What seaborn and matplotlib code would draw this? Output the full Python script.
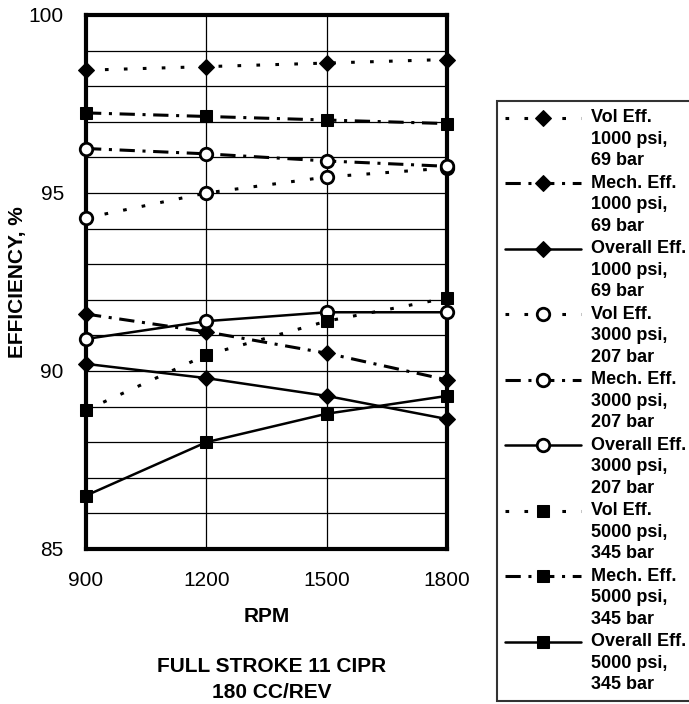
import pandas as pd
import seaborn as sb
from matplotlib import pyplot as plt
from matplotlib.lines import Line2D
from matplotlib.legend_handler import HandlerLine2D
from matplotlib.ticker import MultipleLocator

# RPM values along the x axis
rpm = [900, 1200, 1500, 1800]

# efficiencies (%)
vol_1000 = [98.45, 98.55, 98.65, 98.75]
mech_1000 = [91.6, 91.1, 90.5, 89.75]
overall_1000 = [90.2, 89.8, 89.3, 88.65]
vol_3000 = [94.3, 95.0, 95.45, 95.7]
mech_3000 = [96.25, 96.1, 95.9, 95.75]
overall_3000 = [90.9, 91.4, 91.65, 91.65]
vol_5000 = [88.9, 90.45, 91.4, 92.05]
mech_5000 = [97.25, 97.15, 97.05, 96.95]
overall_5000 = [86.5, 88.0, 88.8, 89.3]

pressures = ["1000 psi,\n69 bar", "3000 psi,\n207 bar", "5000 psi,\n345 bar"]
kinds = ["Vol Eff.", "Mech. Eff.", "Overall Eff."]
series = [
    [vol_1000, mech_1000, overall_1000],
    [vol_3000, mech_3000, overall_3000],
    [vol_5000, mech_5000, overall_5000],
]


class RaisedLine(HandlerLine2D):
    # put the legend handle on the first line of a 3-line label
    def create_artists(self, legend, orig_handle, xdescent, ydescent,
                       width, height, fontsize, trans):
        artists = super().create_artists(legend, orig_handle, xdescent,
                                         ydescent, width, height, fontsize, trans)
        for a in artists:
            a.set_ydata([y + fontsize * 1.2 for y in a.get_ydata()])
        return artists


sb.set_style("white")
plt.rcParams['font.family'] = ['Liberation Sans', 'DejaVu Sans']
plt.rcParams.update({
    "text.color": "black", "axes.labelcolor": "black",
    "xtick.color": "black", "ytick.color": "black",
})

fig = plt.figure(figsize=(6.89, 7.04), dpi=100)
ax = fig.add_axes([86 / 689, 1 - 549 / 704, 361 / 689, 534 / 704])

linestyles = [(0, (1.2, 5)), (0, (5, 2.5, 1, 2.5)), "-"]
markers = [
    dict(marker="D", markersize=8, markerfacecolor="black"),
    dict(marker="o", markersize=9, markerfacecolor="white", markeredgewidth=2),
    dict(marker="s", markersize=9, markerfacecolor="black"),
]

for p, press in enumerate(pressures):
    for k, kind in enumerate(kinds):
        df = pd.DataFrame({"RPM": rpm, "eff": series[p][k]})
        sb.lineplot(
            data=df, x="RPM", y="eff", ax=ax, color="black",
            linewidth=2.2 if k < 2 else 1.8, linestyle=linestyles[k],
            markeredgecolor="black", label=kind + "\n" + press,
            clip_on=False, zorder=3, **markers[p],
        )

ax.set_xlim(900, 1800)
ax.set_ylim(85, 100)
ax.set_xticks(rpm)
ax.set_yticks([85, 90, 95, 100])
ax.yaxis.set_minor_locator(MultipleLocator(1))
ax.grid(True, which="both", axis="y", color="black", linewidth=0.9)
ax.grid(True, which="major", axis="x", color="black", linewidth=0.9)
ax.tick_params(axis="both", which="major", labelsize=15, length=4,
               width=1, pad=12, direction="out", color="black",
               labelcolor="black")
ax.tick_params(axis="y", which="minor", length=0)
for s in ax.spines.values():
    s.set_visible(True)
    s.set_color("black")
    s.set_linewidth(3)
ax.set_xlabel("")
ax.set_ylabel("")

fig.text(18 / 689, 1 - 282 / 704, "EFFICIENCY, %", rotation=90,
         ha="center", va="center", fontsize=15, fontweight="bold")
fig.text(267 / 689, 1 - 617 / 704, "RPM", ha="center", va="center",
         fontsize=15, fontweight="bold")
fig.text(272 / 689, 1 - 666 / 704, "FULL STROKE 11 CIPR", ha="center",
         va="center", fontsize=15, fontweight="bold")
fig.text(272 / 689, 1 - 692 / 704, "180 CC/REV", ha="center",
         va="center", fontsize=15, fontweight="bold")

leg = ax.legend(
    loc="upper left", bbox_to_anchor=(497 / 689, 1 - 101 / 704),
    bbox_transform=fig.transFigure, frameon=True, fancybox=False,
    prop={"weight": "bold", "size": 13}, handlelength=4.2,
    handletextpad=0.55, labelspacing=0.3, borderpad=0.45, borderaxespad=0,
    handler_map={Line2D: RaisedLine()},
)
leg.get_frame().set_edgecolor("black")
leg.get_frame().set_linewidth(1.5)
for t in leg.get_texts():
    t.set_linespacing(1.35)
    t.set_color("black")
    t.set_fontweight("bold")

plt.savefig("out.png", dpi=100)
